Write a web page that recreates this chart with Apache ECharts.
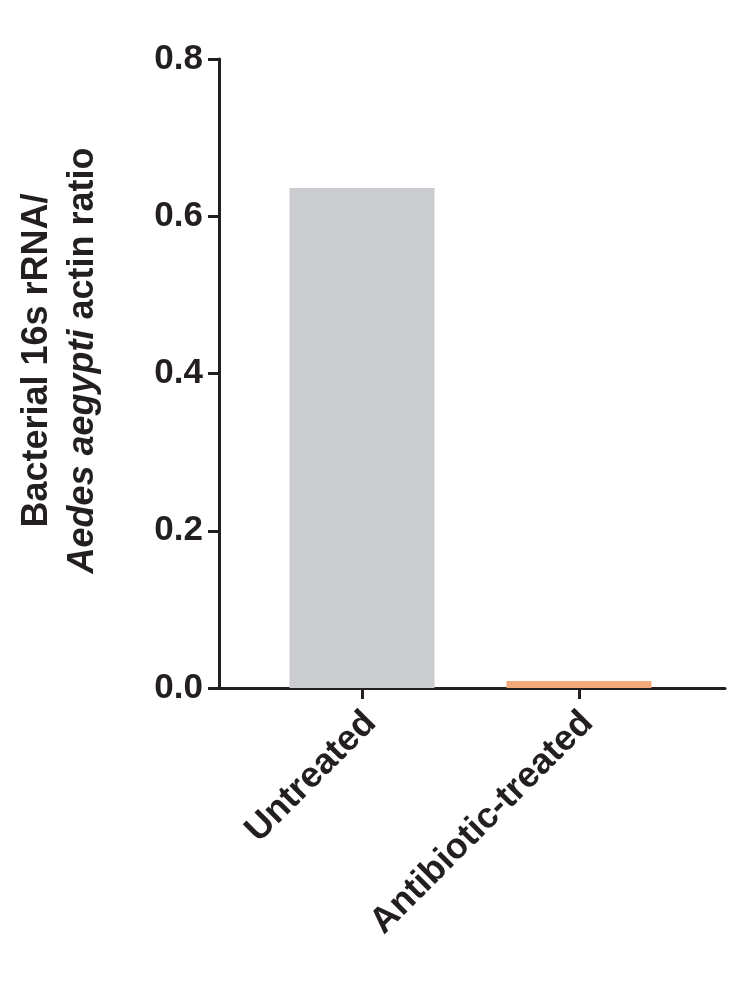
<!DOCTYPE html>
<html>
<head>
<meta charset="utf-8">
<script src="https://cdn.jsdelivr.net/npm/echarts@6/dist/echarts.min.js"></script>
<style>
html,body{margin:0;padding:0;background:#fff;}
#chart{width:738px;height:1000px;}
</style>
</head>
<body>
<div id="chart"></div>
<script>
const categories = ['Untreated', 'Antibiotic-treated'];
const values = [0.636, 0.009];
const barColors = ['#cbcccf', '#f2aa7b'];
const yTicks = [0, 0.2, 0.4, 0.6, 0.8];

const FONT = '"Liberation Sans", Arial, Helvetica, sans-serif';
const chart = echarts.init(document.getElementById('chart'), null, {renderer: 'canvas'});

const seriesData = categories.map((c, i) => ({
  value: [i, values[i]],
  itemStyle: {color: barColors[i]}
}));

chart.setOption({
  animation: false,
  backgroundColor: '#ffffff',
  grid: {left: 219, right: 13, top: 59, bottom: 312, containLabel: false},
  xAxis: {
    type: 'value',
    min: -0.659,
    max: 1.673,
    splitLine: {show: false},
    axisLine: {show: true, onZero: false, lineStyle: {color: '#231f20', width: 3}},
    axisTick: {show: true, customValues: [0, 1], length: 11, lineStyle: {color: '#231f20', width: 3}},
    axisLabel: {
      show: true,
      customValues: [0, 1],
      formatter: v => categories[Math.round(v)] || '',
      rotate: 45,
      margin: 21,
      verticalAlign: 'top',
      lineHeight: 24,
      color: '#231f20',
      fontFamily: FONT,
      fontWeight: 'bold',
      fontSize: 36
    }
  },
  yAxis: {
    type: 'value',
    min: 0,
    max: 0.8,
    interval: 0.2,
    splitLine: {show: false},
    axisLine: {show: true, onZero: false, lineStyle: {color: '#231f20', width: 3}},
    axisTick: {show: true, customValues: yTicks, length: 11, lineStyle: {color: '#231f20', width: 3}},
    axisLabel: {
      color: '#231f20',
      fontFamily: FONT,
      fontWeight: 'bold',
      fontSize: 35,
      margin: 16,
      formatter: v => v.toFixed(1)
    },
    name: '{b|Bacterial 16s rRNA/}\n{i|Aedes aegypti}{b| actin ratio}',
    nameLocation: 'middle',
    nameRotate: 90,
    nameGap: 113,
    nameTextStyle: {
      padding: [0, 0, 0, 26],
      rich: {
        b: {fontFamily: FONT, fontWeight: 'bold', fontSize: 36, color: '#231f20', lineHeight: 46},
        i: {fontFamily: FONT, fontWeight: 'bold', fontStyle: 'italic', fontSize: 36, color: '#231f20', lineHeight: 46}
      }
    }
  },
  series: [{
    type: 'bar',
    data: seriesData,
    barWidth: 145,
    z: 1
  }]
});
</script>
</body>
</html>
